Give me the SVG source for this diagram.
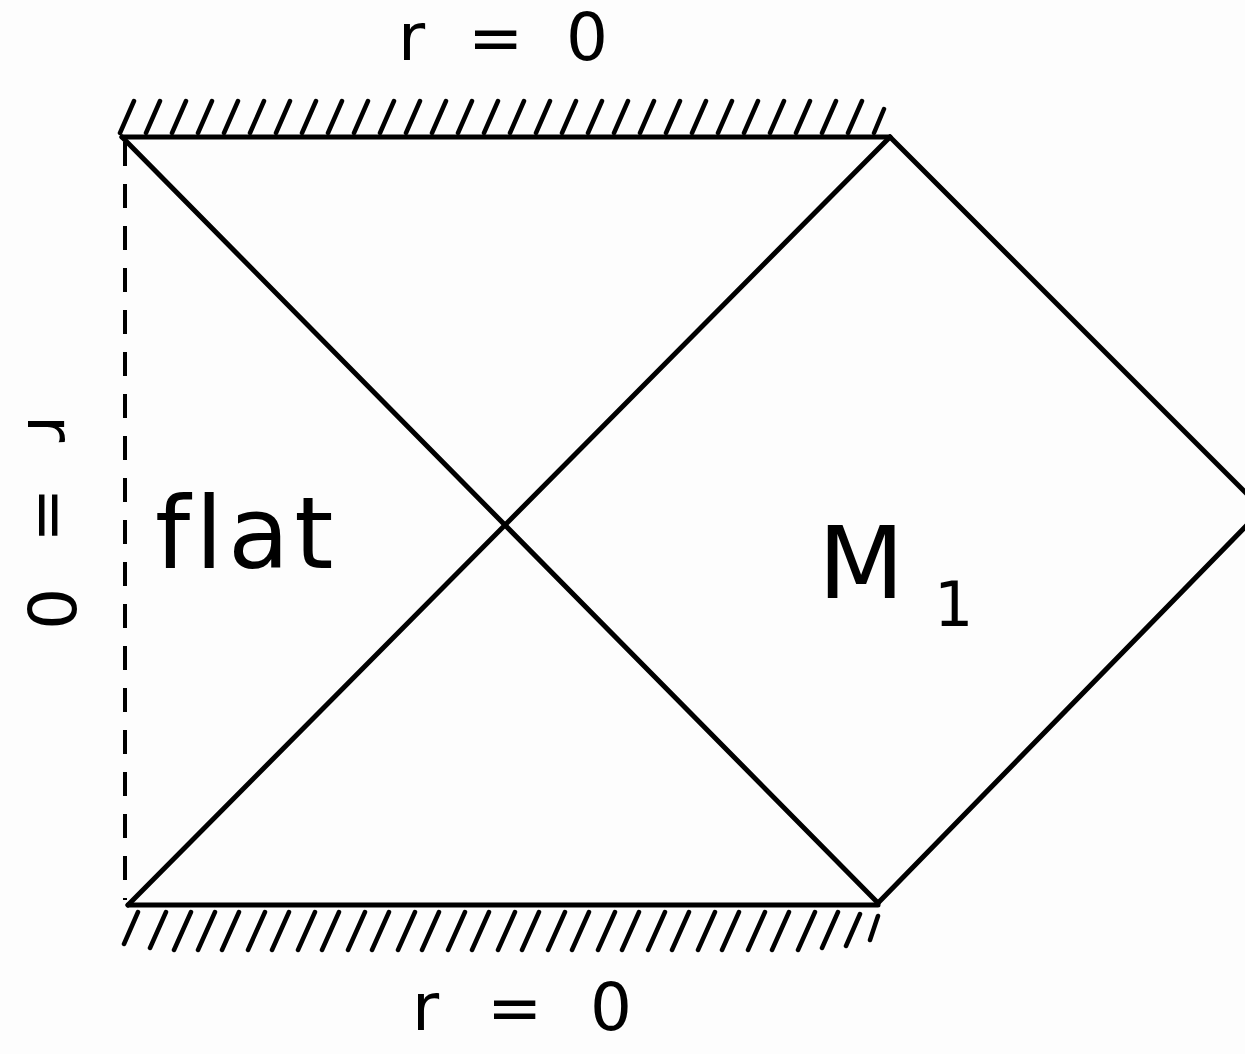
<svg xmlns="http://www.w3.org/2000/svg" width="1245" height="1054" viewBox="0 0 1245 1054">
<style>
.ln{stroke:#000;stroke-width:5;fill:none;stroke-linecap:round;stroke-linejoin:round}
.ht{stroke:#000;stroke-width:4.5;fill:none;stroke-linecap:round}
.dash{stroke:#000;stroke-width:4;fill:none;stroke-dasharray:24 18}
.lbl{font-family:"DejaVu Sans",sans-serif;fill:#000;font-variant-ligatures:none}
</style>
<rect width="1245" height="1054" fill="#fdfdfd"/>
<g id="connectors">
<line class="ln" x1="122" y1="137" x2="890" y2="137"/>
<line class="ln" x1="128" y1="905" x2="878" y2="905"/>
<line class="dash" x1="125" y1="142" x2="125" y2="900"/>
<line class="ln" x1="122" y1="137" x2="878" y2="903"/>
<line class="ln" x1="128" y1="905" x2="890" y2="137"/>
<line class="ln" x1="890" y1="137" x2="1250" y2="497"/>
<line class="ln" x1="878" y1="903" x2="1250" y2="522"/>
</g>
<g id="hatch-top">
<path class="ht" d="M120 133l14-32M146 133l14-32M172 133l14-32M198 133l14-32M224 133l14-32M250 133l14-32M276 133l14-32M302 133l14-32M328 133l14-32M354 133l14-32M380 133l14-32M406 133l14-32M432 133l14-32M458 133l14-32M484 133l14-32M510 133l14-32M536 133l14-32M562 133l14-32M588 133l14-32M614 133l14-32M640 133l14-32M666 133l14-32M692 133l14-32M718 133l14-32M744 133l14-32M770 133l14-32M796 133l14-32M822 133l14-32M848 133l14-32M874 133l10-24"/>
</g>
<g id="hatch-bottom">
<path class="ht" d="M124 944l14-32M150 948l16-36M174 950l17-38M198 950l17-38M222 950l17-38M248 950l17-38M272 950l17-38M298 950l17-38M322 950l17-38M348 950l17-38M372 950l17-38M398 950l17-38M422 950l17-38M448 950l17-38M472 950l17-38M498 950l17-38M522 950l17-38M548 950l17-38M572 950l17-38M598 950l17-38M622 950l17-38M648 950l17-38M672 950l17-38M698 950l17-38M722 950l17-38M748 950l17-38M772 950l17-38M798 950l17-38M822 948l16-36M846 946l14-32M870 940l8-24"/>
</g>
<g id="label-top"><text class="lbl" x="398" y="60" font-size="66" textLength="210" lengthAdjust="spacing">r = 0</text></g>
<g id="label-bottom"><text class="lbl" x="412" y="1030" font-size="66" textLength="220" lengthAdjust="spacing">r=0</text></g>
<g id="label-left"><text class="lbl" x="-107" y="0" font-size="66" textLength="215" lengthAdjust="spacing" transform="translate(28,522) rotate(90)">r = 0</text></g>
<g id="label-flat"><text class="lbl" x="155" y="568" font-size="100" letter-spacing="5">flat</text></g>
<g id="label-M1"><text class="lbl" x="818" y="598" font-size="100">M</text><text class="lbl" x="934" y="626" font-size="62">1</text></g>
</svg>
